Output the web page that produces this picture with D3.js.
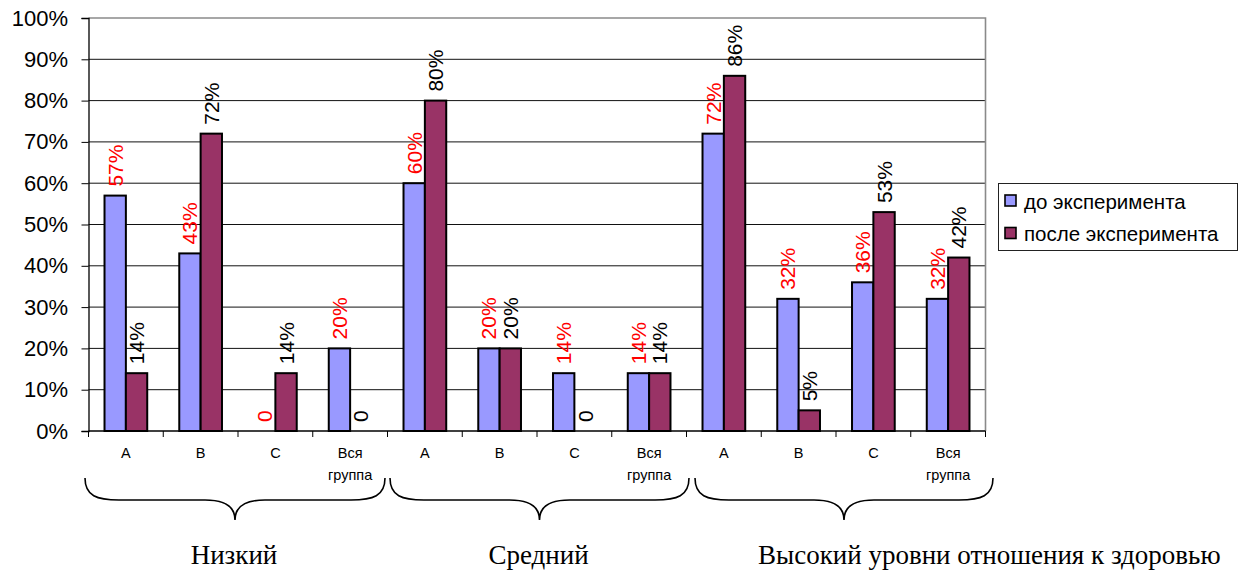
<!DOCTYPE html>
<html>
<head>
<meta charset="utf-8">
<script src="https://cdn.jsdelivr.net/npm/d3@7"></script>
<style>
  html, body { margin: 0; padding: 0; background: #fff; }
  svg { display: block; }
</style>
</head>
<body>
<svg id="chart" width="1252" height="575"></svg>
<script>
// Category labels along the x axis (four per health-attitude level)
const categories = ["A", "B", "C", "Вся группа",
                    "A", "B", "C", "Вся группа",
                    "A", "B", "C", "Вся группа"];
// Level names shown under the braces
const groups = ["Низкий", "Средний", "Высокий уровни отношения к здоровью"];
// Percent values per category
const before = [57, 43, 0, 20, 60, 20, 14, 14, 72, 32, 36, 32];
const after  = [14, 72, 14, 0, 80, 20, 0, 14, 86, 5, 53, 42];
const seriesNames = ["до эксперимента", "после эксперимента"];
const yTicks = [0, 10, 20, 30, 40, 50, 60, 70, 80, 90, 100];

const svg = d3.select("#chart");
const plot = { left: 88.5, right: 985.5, top: 18, bottom: 431 };
const colors = ["#9999FF", "#993366"];
const labelColors = ["#FF0000", "#000000"];
const sans = "'Liberation Sans', Arial, sans-serif";
const serif = "'Liberation Serif', 'Times New Roman', serif";

const x = d3.scaleBand().domain(d3.range(categories.length))
  .range([plot.left, plot.right]).paddingInner(0).paddingOuter(0);
const xs = d3.scaleBand().domain([0, 1])
  .range([0, x.bandwidth()]).paddingInner(0).paddingOuter(0.75);
const y = d3.scaleLinear().domain([0, 100]).range([plot.bottom, plot.top]);

// horizontal gridlines
svg.append("g").selectAll("line")
  .data(yTicks.filter(d => d > 0 && d < 100))
  .join("line")
  .attr("x1", plot.left).attr("x2", plot.right)
  .attr("y1", d => y(d)).attr("y2", d => y(d))
  .attr("stroke", "#111").attr("stroke-width", 1);

// plot-area frame (top and right in grey)
svg.append("path")
  .attr("d", `M${plot.left},${plot.top}H${plot.right}V${plot.bottom}`)
  .attr("fill", "none").attr("stroke", "#8a8a8a").attr("stroke-width", 1.6);

// y axis
const yAxis = svg.append("g")
  .attr("transform", `translate(${plot.left},0)`)
  .call(d3.axisLeft(y).tickValues(yTicks).tickFormat(d => d + "%")
    .tickSize(7).tickPadding(13.5));
yAxis.select(".domain").attr("stroke", "#000").attr("stroke-width", 1.3);
yAxis.selectAll(".tick line").attr("stroke", "#000");
yAxis.selectAll("text").attr("font-family", sans).attr("font-size", 22).attr("fill", "#000");

// bars
const series = [before, after];
series.forEach((vals, s) => {
  svg.append("g").selectAll("rect")
    .data(vals.map((v, i) => ({ v, i })))
    .join("rect")
    .attr("x", d => x(d.i) + xs(s))
    .attr("y", d => y(d.v))
    .attr("width", xs.bandwidth())
    .attr("height", d => y(0) - y(d.v))
    .attr("fill", colors[s])
    .attr("stroke", d => d.v > 0 ? "#000" : "none")
    .attr("stroke-width", 2);
});

// x axis line and category separators
svg.append("line")
  .attr("x1", plot.left).attr("x2", plot.right)
  .attr("y1", plot.bottom).attr("y2", plot.bottom)
  .attr("stroke", "#000").attr("stroke-width", 1.3);
svg.append("g").selectAll("line")
  .data(d3.range(categories.length + 1))
  .join("line")
  .attr("x1", i => i < categories.length ? x(i) : plot.right)
  .attr("x2", i => i < categories.length ? x(i) : plot.right)
  .attr("y1", plot.bottom).attr("y2", plot.bottom + 6)
  .attr("stroke", "#000").attr("stroke-width", 1);

// value labels, rotated
series.forEach((vals, s) => {
  svg.append("g").selectAll("text")
    .data(vals.map((v, i) => ({ v, i })))
    .join("text")
    .attr("transform", d =>
      `translate(${x(d.i) + xs(s) + xs.bandwidth() / 2},${y(d.v) - 9}) rotate(-90)`)
    .attr("dominant-baseline", "central")
    .attr("text-anchor", "start")
    .attr("font-family", sans).attr("font-size", 21)
    .attr("fill", labelColors[s])
    .text(d => d.v === 0 ? "0" : d.v + "%");
});

// category labels
const catText = svg.append("g").selectAll("text")
  .data(categories.map((c, i) => ({ c, i })))
  .join("text")
  .attr("text-anchor", "middle")
  .attr("font-family", sans).attr("font-size", 14.5).attr("fill", "#000");
catText.each(function (d) {
  const t = d3.select(this);
  const cx = x(d.i) + x.bandwidth() / 2;
  d.c.split(" ").forEach((w, k) => {
    t.append("tspan").attr("x", cx).attr("y", 458 + k * 22).text(w);
  });
});

// braces under each level and level names
const perGroup = categories.length / groups.length;
const braceTop = 478, braceMid = 500, braceTip = 520;
groups.forEach((g, gi) => {
  const gx0 = x(gi * perGroup) - 3.5 + gi * 6;
  const gx1 = x((gi + 1) * perGroup - 1) + x.bandwidth() - 2.5 + gi * 5;
  const cx = (gx0 + gx1) / 2;
  const p = d3.path();
  p.moveTo(gx0, braceTop);
  p.bezierCurveTo(gx0, braceMid - 4, gx0 + 12, braceMid, gx0 + 34, braceMid);
  p.lineTo(cx - 30, braceMid);
  p.bezierCurveTo(cx - 10, braceMid, cx, braceMid + 6, cx, braceTip);
  p.bezierCurveTo(cx, braceMid + 6, cx + 10, braceMid, cx + 30, braceMid);
  p.lineTo(gx1 - 34, braceMid);
  p.bezierCurveTo(gx1 - 12, braceMid, gx1, braceMid - 4, gx1, braceTop);
  svg.append("path").attr("d", p.toString())
    .attr("fill", "none").attr("stroke", "#000").attr("stroke-width", 1.6);

  const last = gi === groups.length - 1;
  svg.append("text")
    .attr("x", last ? cx - 86 : cx - 1)
    .attr("y", 564)
    .attr("text-anchor", last ? "start" : "middle")
    .attr("font-family", serif).attr("font-size", 27).attr("fill", "#000")
    .text(g);
});

// legend
const legend = svg.append("g").attr("transform", "translate(998,183)");
legend.append("rect").attr("x", 0.5).attr("y", 0.5).attr("width", 239).attr("height", 67)
  .attr("fill", "#fff").attr("stroke", "#222").attr("stroke-width", 1);
seriesNames.forEach((name, s) => {
  const cy = 18 + s * 32.5;
  legend.append("rect").attr("x", 7).attr("y", cy - 6).attr("width", 11).attr("height", 11)
    .attr("fill", colors[s]).attr("stroke", "#000").attr("stroke-width", 1.6);
  legend.append("text").attr("x", 26).attr("y", cy)
    .attr("dominant-baseline", "central")
    .attr("font-family", sans).attr("font-size", 20.5).attr("fill", "#000")
    .text(name);
});
</script>
</body>
</html>
